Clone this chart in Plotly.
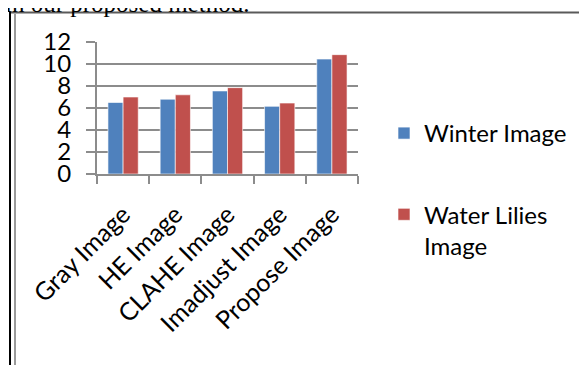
import plotly.graph_objects as go

categories = ["Gray Image", "HE Image", "CLAHE Image", "Imadjust Image", "Propose Image"]
winter = [6.5, 6.8, 7.55, 6.15, 10.45]
water_lilies = [7.0, 7.2, 7.85, 6.45, 10.85]
series_names = ["Winter Image", "Water Lilies<br>Image"]
y_ticks = [0, 2, 4, 6, 8, 10, 12]
caption = "in our proposed method."

W, H = 587, 365
OFF = 8  # page body margin offset
L, R, T, B = 97, 358, 42, 174  # plot area in on-screen pixels


def px(x):
    return (x - L) / (R - L)


def py(y):
    return (B - y) / (B - T)


FONT = "Lato, 'Open Sans', sans-serif"

fig = go.Figure()
fig.add_trace(go.Bar(x=categories, y=winter, name=series_names[0], legendgroup="a",
                     marker=dict(color="#4F81BD", line=dict(color="rgba(255,255,255,0.6)", width=1))))
fig.add_trace(go.Bar(x=categories, y=water_lilies, name=series_names[1], legendgroup="b",
                     marker=dict(color="#C0504D", line=dict(color="rgba(255,255,255,0.6)", width=1))))

shapes = [
    dict(type="line", xref="paper", yref="paper", x0=px(9), x1=px(W + 5), y0=py(12.5), y1=py(12.5),
         line=dict(color="#5a5a5a", width=2)),
    dict(type="line", xref="paper", yref="paper", x0=px(10), x1=px(10), y0=py(12), y1=py(H + 5),
         line=dict(color="#000000", width=2)),
    dict(type="line", xref="paper", yref="paper", x0=px(15), x1=px(15), y0=py(14), y1=py(H + 5),
         line=dict(color="#9a9a9a", width=2)),
]

fig.update_layout(
    width=W, height=H,
    margin=dict(l=L - OFF, r=W - (R - OFF), t=T - OFF, b=H - (B - OFF), pad=0, autoexpand=False),
    paper_bgcolor="white", plot_bgcolor="white",
    barmode="group", bargap=0.42, bargroupgap=0.0,
    font=dict(family=FONT, size=22, color="#000000"),
    showlegend=True,
    legend=dict(x=px(384), y=py(111), xanchor="left", yanchor="top",
                font=dict(family=FONT, size=24, color="#000"),
                traceorder="grouped", tracegroupgap=47, valign="top",
                maxheight=400, bgcolor="rgba(0,0,0,0)"),
    shapes=shapes,
    annotations=[dict(text=caption, xref="paper", yref="paper", x=px(251), y=py(19),
                      xanchor="right", yanchor="bottom", showarrow=False,
                      font=dict(family="'Liberation Serif', 'Times New Roman', serif", size=25, color="#000"))],
)

fig.update_xaxes(
    type="category", showgrid=False, showline=True, linecolor="#8c8c8c", linewidth=2,
    ticks="outside", tickson="boundaries", ticklen=8, tickwidth=2, tickcolor="#8c8c8c",
    tickangle=-45, ticklabelstandoff=14, tickfont=dict(family=FONT, size=25, color="#000"),
)
fig.update_yaxes(
    range=[0, 12], tickvals=y_ticks, showgrid=True, gridcolor="#8c8c8c", gridwidth=2,
    showline=True, linecolor="#8c8c8c", linewidth=2, zeroline=False,
    ticks="outside", ticklen=9, tickwidth=2, tickcolor="#8c8c8c",
    ticklabelstandoff=10, tickfont=dict(family=FONT, size=24, color="#000"),
)

fig.write_html("out.html")
